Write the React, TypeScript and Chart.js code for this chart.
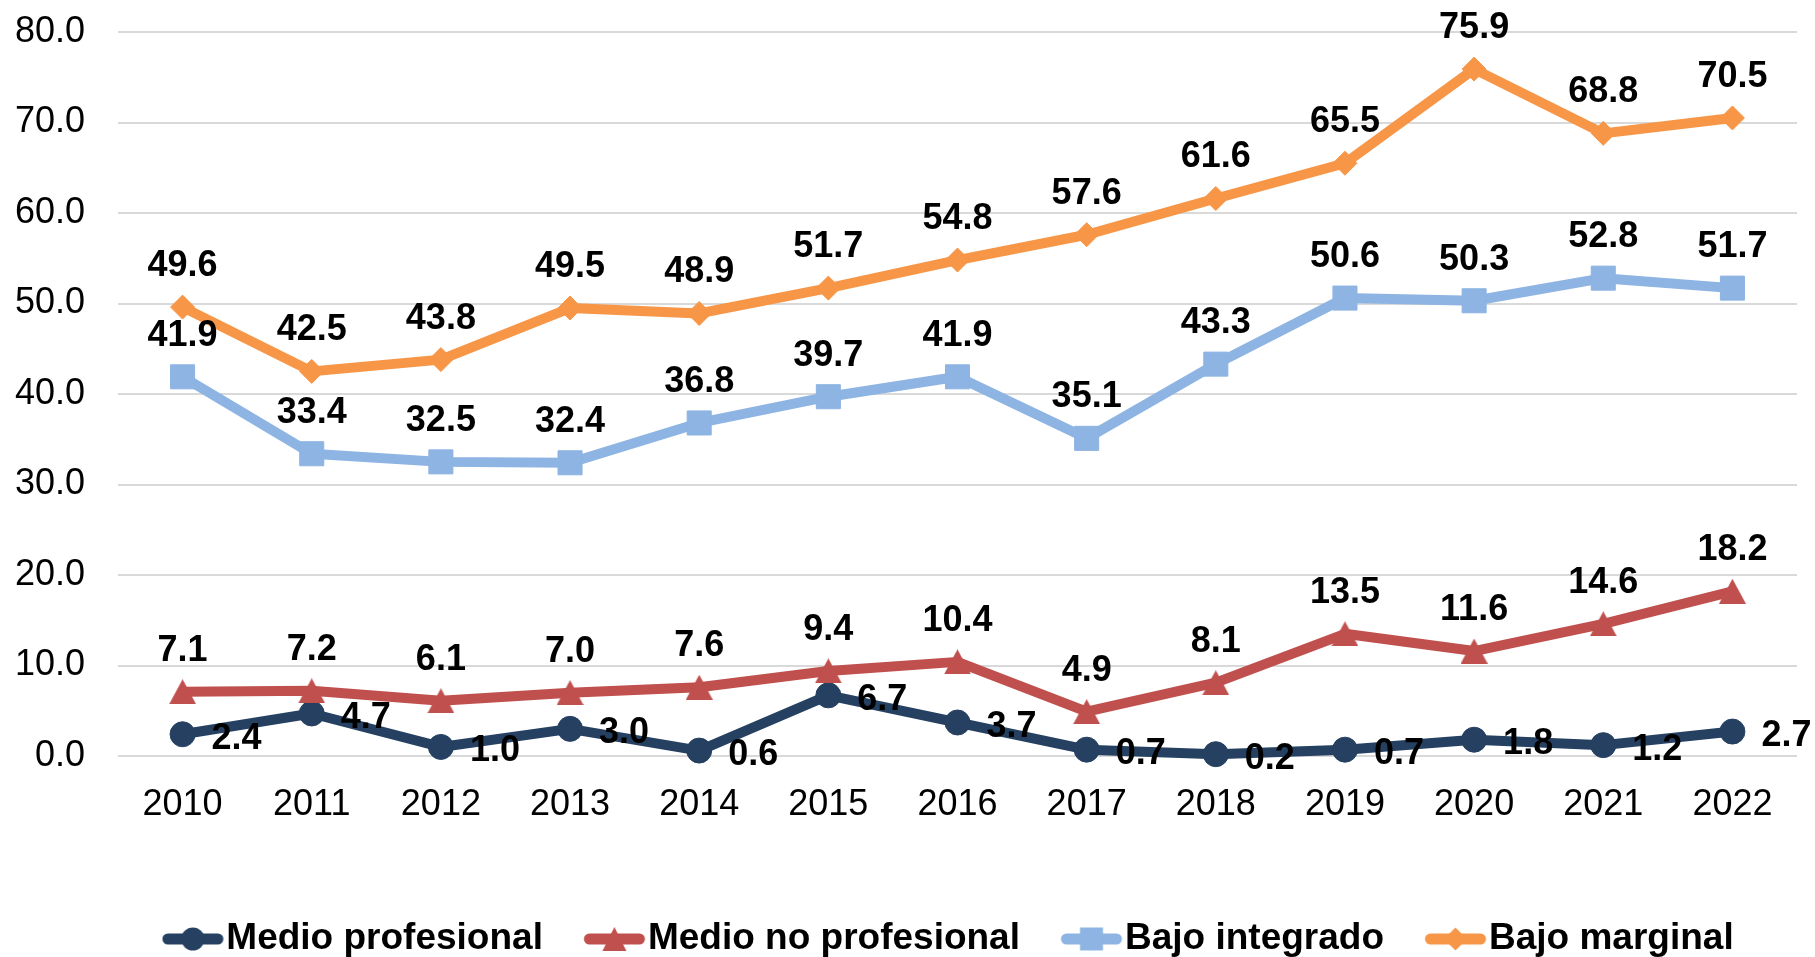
import React, { useEffect, useRef } from 'react';
import { Chart, registerables } from 'chart.js';

Chart.register(...registerables);

// ---------- data ----------
const years = ['2010', '2011', '2012', '2013', '2014', '2015', '2016', '2017', '2018', '2019', '2020', '2021', '2022'];
const medioProfesional = [2.4, 4.7, 1.0, 3.0, 0.6, 6.7, 3.7, 0.7, 0.2, 0.7, 1.8, 1.2, 2.7];
const medioNoProfesional = [7.1, 7.2, 6.1, 7.0, 7.6, 9.4, 10.4, 4.9, 8.1, 13.5, 11.6, 14.6, 18.2];
const bajoIntegrado = [41.9, 33.4, 32.5, 32.4, 36.8, 39.7, 41.9, 35.1, 43.3, 50.6, 50.3, 52.8, 51.7];
const bajoMarginal = [49.6, 42.5, 43.8, 49.5, 48.9, 51.7, 54.8, 57.6, 61.6, 65.5, 75.9, 68.8, 70.5];
const seriesNames = ['Medio profesional', 'Medio no profesional', 'Bajo integrado', 'Bajo marginal'];
const yMin = 0;
const yMax = 80;
const yStep = 10;

// ---------- styles ----------
const FONT = '"Liberation Sans", Arial, Helvetica, sans-serif';
const colors = ['#254061', '#C0504D', '#8DB4E2', '#F79646'];
const labelPlacement = ['right', 'above', 'above', 'above'];

function makeCanvas(w: number, h: number) {
  const c = document.createElement('canvas');
  c.width = w;
  c.height = h;
  return c;
}

function drawMarker(ctx: CanvasRenderingContext2D, kind: string, cx: number, cy: number, color: string, s: number) {
  ctx.fillStyle = color;
  ctx.beginPath();
  if (kind === 'circle') {
    ctx.arc(cx, cy, s / 2, 0, Math.PI * 2);
  } else if (kind === 'triangle') {
    ctx.moveTo(cx, cy - s / 2);
    ctx.lineTo(cx + s / 2, cy + s / 2);
    ctx.lineTo(cx - s / 2, cy + s / 2);
    ctx.closePath();
  } else if (kind === 'square') {
    ctx.rect(cx - s / 2, cy - s / 2, s, s);
  } else {
    ctx.moveTo(cx, cy - s / 2);
    ctx.lineTo(cx + s / 2, cy);
    ctx.lineTo(cx, cy + s / 2);
    ctx.lineTo(cx - s / 2, cy);
    ctx.closePath();
  }
  ctx.fill();
}

function makeTriangleMarker(color: string) {
  const w = 27;
  const h = 25;
  const c = makeCanvas(w, h);
  const ctx = c.getContext('2d')!;
  ctx.fillStyle = color;
  ctx.beginPath();
  ctx.moveTo(w / 2, 0);
  ctx.lineTo(w, h);
  ctx.lineTo(0, h);
  ctx.closePath();
  ctx.fill();
  return c;
}

// legend box geometry (Chart.js legend: text starts at box + fontSize/2)
const LEGEND_BOX = 26.5;
function makeLegendIcon(color: string, kind: string) {
  const W = 66;
  const H = 30;
  const c = makeCanvas(W, H);
  const ctx = c.getContext('2d')!;
  const x0 = 0.75;
  const x1 = 61.75;
  const cy = H / 2;
  const lw = 11;
  ctx.strokeStyle = color;
  ctx.lineWidth = lw;
  ctx.lineCap = 'round';
  ctx.beginPath();
  ctx.moveTo(x0 + lw / 2, cy);
  ctx.lineTo(x1 - lw / 2, cy);
  ctx.stroke();
  drawMarker(ctx, kind, (x0 + x1) / 2, cy, color, kind === 'triangle' ? 24 : 23);
  return c;
}

const valueLabelPlugin = {
  id: 'valueLabels',
  afterDatasetsDraw(chart: any) {
    const ctx = chart.ctx as CanvasRenderingContext2D;
    ctx.save();
    ctx.font = `bold 36px ${FONT}`;
    ctx.fillStyle = '#000000';
    ctx.textBaseline = 'alphabetic';
    chart.data.datasets.forEach((ds: any, i: number) => {
      const meta = chart.getDatasetMeta(i);
      meta.data.forEach((pt: any, j: number) => {
        const text = Number(ds.data[j]).toFixed(1);
        if (labelPlacement[i] === 'right') {
          ctx.textAlign = 'left';
          ctx.fillText(text, pt.x + 29, pt.y + 14.4);
        } else {
          ctx.textAlign = 'center';
          ctx.fillText(text, pt.x, pt.y - 31.1);
        }
      });
    });
    ctx.restore();
  },
};

export default function App() {
  const ref = useRef<HTMLCanvasElement>(null);

  useEffect(() => {
    const canvas = ref.current;
    if (!canvas) return;

    const legendKinds = ['circle', 'triangle', 'square', 'diamond'];
    const legendIcons = colors.map((c, i) => makeLegendIcon(c, legendKinds[i]));
    const triangle = makeTriangleMarker(colors[1]);

    const common = {
      borderWidth: 10,
      tension: 0,
      borderJoinStyle: 'round' as const,
      borderCapStyle: 'round' as const,
      pointBorderWidth: 1,
      fill: false,
      clip: false as const,
    };

    const chart = new Chart(canvas, {
      type: 'line',
      data: {
        labels: years,
        datasets: [
          {
            ...common,
            label: seriesNames[0],
            data: medioProfesional,
            borderColor: colors[0],
            backgroundColor: colors[0],
            pointBackgroundColor: colors[0],
            pointBorderColor: colors[0],
            pointStyle: 'circle',
            pointRadius: 12.5,
            order: 4,
          },
          {
            ...common,
            label: seriesNames[1],
            data: medioNoProfesional,
            borderColor: colors[1],
            backgroundColor: colors[1],
            pointBackgroundColor: colors[1],
            pointBorderColor: colors[1],
            pointStyle: triangle as any,
            pointRadius: 13,
            order: 3,
          },
          {
            ...common,
            label: seriesNames[2],
            data: bajoIntegrado,
            borderColor: colors[2],
            backgroundColor: colors[2],
            pointBackgroundColor: colors[2],
            pointBorderColor: colors[2],
            pointStyle: 'rect',
            pointRadius: 17,
            order: 2,
          },
          {
            ...common,
            label: seriesNames[3],
            data: bajoMarginal,
            borderColor: colors[3],
            backgroundColor: colors[3],
            pointBackgroundColor: colors[3],
            pointBorderColor: colors[3],
            pointStyle: 'rectRot',
            pointRadius: 12,
            order: 1,
          },
        ],
      },
      options: {
        animation: false,
        responsive: false,
        devicePixelRatio: 1,
        events: [],
        layout: { padding: { top: 32, left: 0, right: 18, bottom: 0 } },
        scales: {
          x: {
            offset: true,
            grid: { display: false },
            border: { display: false },
            ticks: {
              padding: 19.5,
              color: '#000000',
              font: { family: FONT, size: 36 },
              maxRotation: 0,
              autoSkip: false,
            },
            afterFit: (s: any) => {
              s.height = 104.5;
            },
          },
          y: {
            min: yMin,
            max: yMax,
            grid: {
              color: '#D9D9D9',
              lineWidth: 2,
              drawTicks: true,
              tickLength: 33,
              tickColor: 'rgba(0,0,0,0)',
            },
            border: { display: false },
            ticks: {
              stepSize: yStep,
              padding: 0,
              color: '#000000',
              font: { family: FONT, size: 36 },
              callback: (v: any) => Number(v).toFixed(1),
            },
            afterFit: (s: any) => {
              s.width = 118;
            },
          },
        },
        plugins: {
          tooltip: { enabled: false },
          legend: {
            position: 'bottom',
            fullSize: false,
            maxHeight: 96.5,
            labels: {
              usePointStyle: true,
              pointStyleWidth: LEGEND_BOX,
              padding: 60,
              color: '#000000',
              font: { family: FONT, size: 37, weight: 'bold' },
              generateLabels: () =>
                seriesNames.map((name, i) => ({
                  text: name,
                  pointStyle: legendIcons[i] as any,
                  fillStyle: colors[i],
                  strokeStyle: colors[i],
                  lineWidth: 0,
                  hidden: false,
                  datasetIndex: i,
                  fontColor: '#000000',
                })),
            },
          },
        },
      },
      plugins: [valueLabelPlugin],
    } as any);

    return () => chart.destroy();
  }, []);

  return (
    <div style={{ position: 'fixed', left: 0, top: 0, width: 1815, height: 957, background: '#ffffff' }}>
      <canvas ref={ref} width={1815} height={957} style={{ display: 'block', width: 1815, height: 957 }} />
    </div>
  );
}
